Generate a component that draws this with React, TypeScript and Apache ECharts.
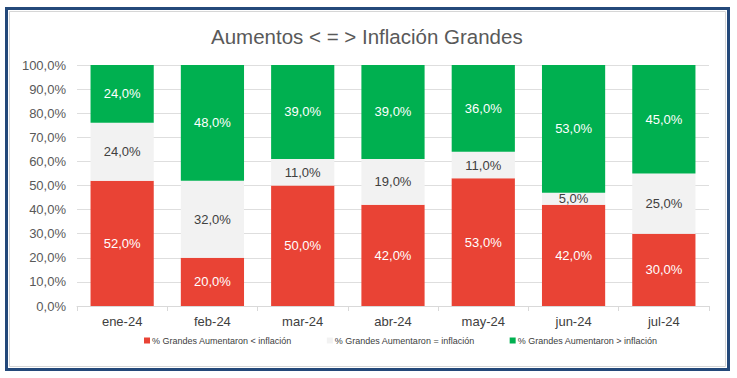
import React, { useEffect, useRef } from "react";
import * as echarts from "echarts";

const categories = ["ene-24", "feb-24", "mar-24", "abr-24", "may-24", "jun-24", "jul-24"];
const menorInflacion = [52, 20, 50, 42, 53, 42, 30];
const igualInflacion = [24, 32, 11, 19, 11, 5, 25];
const mayorInflacion = [24, 48, 39, 39, 36, 53, 45];
const seriesNames = [
  "% Grandes Aumentaron < inflación",
  "% Grandes Aumentaron = inflación",
  "% Grandes Aumentaron > inflación",
];

const fmt = (v: number) => v.toFixed(1).replace(".", ",") + "%";

export default function App() {
  const ref = useRef<HTMLDivElement>(null);
  useEffect(() => {
    if (!ref.current) return;
    const chart = echarts.init(ref.current, null, { renderer: "svg" });
    const font = "Liberation Sans, Arial, sans-serif";
    const labelBase = {
      show: true,
      position: "inside" as const,
      fontSize: 13,
      fontFamily: font,
      formatter: (p: any) => fmt(p.value),
    };
    chart.setOption({
      animation: false,
      backgroundColor: "#ffffff",
      title: {
        text: "Aumentos < = > Inflación Grandes",
        left: 206,
        top: 21,
        textStyle: { fontSize: 20.5, fontWeight: "normal", color: "#595959", fontFamily: font },
      },
      graphic: [
        {
          type: "rect",
          shape: { x: 6.5, y: 8.5, width: 722, height: 361 },
          style: { fill: "none", stroke: "#24497a", lineWidth: 3 },
          silent: true,
        },
        {
          type: "rect",
          shape: { x: 9.5, y: 11.5, width: 716, height: 355 },
          style: { fill: "none", stroke: "#d6d6d6", lineWidth: 1 },
          silent: true,
        },
      ],
      legend: {
        bottom: 28,
        left: 139,
        itemWidth: 6,
        itemHeight: 6,
        itemGap: 35,
        icon: "rect",
        textStyle: { fontSize: 9, color: "#404040", fontFamily: font, padding: [0, 0, 0, -3] },
        data: seriesNames,
      },
      grid: { left: 77, right: 28, top: 65, bottom: 72 },
      xAxis: {
        type: "category",
        data: categories,
        axisLine: { lineStyle: { color: "#d9d9d9" } },
        axisTick: { show: true, lineStyle: { color: "#d9d9d9" }, length: 5 },
        axisLabel: { fontSize: 13, color: "#404040", fontFamily: font, margin: 9 },
      },
      yAxis: {
        type: "value",
        min: 0,
        max: 100,
        interval: 10,
        axisLine: { show: false },
        axisTick: { show: false },
        splitLine: { lineStyle: { color: "#dedede" } },
        axisLabel: {
          fontSize: 13,
          color: "#595959",
          fontFamily: font,
          margin: 11,
          formatter: (v: number) => fmt(v),
        },
      },
      series: [
        {
          name: seriesNames[0],
          type: "bar",
          stack: "total",
          barCategoryGap: "30%",
          data: menorInflacion,
          itemStyle: { color: "#e94335" },
          label: { ...labelBase, color: "#ffffff" },
        },
        {
          name: seriesNames[1],
          type: "bar",
          stack: "total",
          barCategoryGap: "30%",
          data: igualInflacion,
          itemStyle: { color: "#f2f2f2" },
          label: { ...labelBase, color: "#404040" },
        },
        {
          name: seriesNames[2],
          type: "bar",
          stack: "total",
          barCategoryGap: "30%",
          data: mayorInflacion,
          itemStyle: { color: "#00b050" },
          label: { ...labelBase, color: "#ffffff" },
        },
      ],
    });
    return () => chart.dispose();
  }, []);
  return (
    <div
      ref={ref}
      style={{ position: "fixed", left: 0, top: 0, width: 737, height: 378 }}
    />
  );
}
